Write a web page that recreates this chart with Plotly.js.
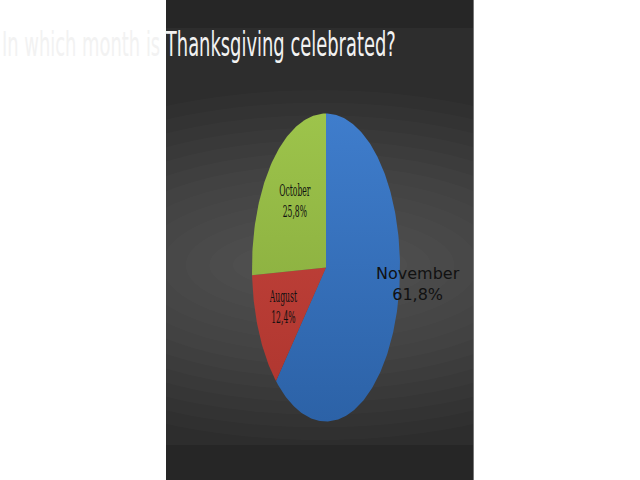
<!DOCTYPE html>
<html>
<head>
<meta charset="utf-8">
<script src="https://cdn.plot.ly/plotly-3.0.1.min.js"></script>
<style>body{margin:0;background:#fff}</style>
</head>
<body>
<div id="chart" style="width:640px;height:480px"></div>
<script>
var months = ['November', 'August', 'October'];
var shares = [61.8, 12.4, 25.8];
var topColors = ['#3f7dcc', '#c8463e', '#9dc44b'];
var bottomColors = ['#2c62a7', '#ad352e', '#82a43a'];
var chartTitle = 'In which month is Thanksgiving celebrated?';

// the slide was squeezed sideways, so the pie is an ellipse
var cx = 326, cy = 267.5, rx = 74, ry = 154;
function px(x) { return x / 640; }
function py(y) { return 1 - y / 480; }

var total = shares.reduce(function (a, b) { return a + b; }, 0);
var traces = [];
var acc = 0;
shares.forEach(function (v, i) {
	var a0 = acc / total * 2 * Math.PI;
	var a1 = (acc + v) / total * 2 * Math.PI;
	var n = Math.max(4, Math.ceil((a1 - a0) / (Math.PI / 180)));
	var xs = [0], ys = [0];
	for (var k = 0; k <= n; k++) {
		var a = a0 + (a1 - a0) * k / n;
		xs.push(Math.sin(a));
		ys.push(Math.cos(a));
	}
	xs.push(0); ys.push(0);
	traces.push({
		x: xs, y: ys, type: 'scatter', mode: 'lines', fill: 'toself',
		line: {width: 0, color: topColors[i]},
		fillgradient: {type: 'vertical', colorscale: [[0, bottomColors[i]], [1, topColors[i]]], start: -1, stop: 1},
		hoverinfo: 'skip', showlegend: false
	});
	acc += v;
});

function pct(v) { return v.toFixed(1).replace('.', ',') + '%'; }

var labelPos = [[1.24, -0.11], [-0.58, -0.255], [-0.42, 0.43]];
var annotations = months.map(function (m, i) {
	var big = i === 0;
	return {
		x: labelPos[i][0], y: labelPos[i][1], xref: 'x', yref: 'y',
		text: m + '<br>' + pct(shares[i]), showarrow: false,
		align: 'center', xanchor: 'center', yanchor: 'middle',
		font: big ? {family: 'DejaVu Sans', size: 16, color: '#111111'}
		          : {family: 'DejaVu Serif', size: 16, color: '#111111'}
	};
});

var shapes = [
	{type: 'rect', xref: 'paper', yref: 'paper', x0: px(166), x1: px(474), y0: 0, y1: 1,
	 fillcolor: '#262626', line: {width: 0}, layer: 'below'},
	{type: 'rect', xref: 'paper', yref: 'paper', x0: px(166), x1: px(474), y0: py(445), y1: py(28),
	 fillcolor: '#2d2d2d', line: {width: 0}, layer: 'below'}
];
// soft light band behind the pie, many faint layers so no steps show
for (var k = 0; k < 14; k++) {
	var f = 1 - k / 14;
	shapes.push({type: 'circle', xref: 'paper', yref: 'paper',
		x0: px(320 - 330 * f - 40), x1: px(320 + 330 * f + 40), y0: py(265 + 175 * f), y1: py(265 - 175 * f),
		fillcolor: 'rgba(255,255,255,0.016)', line: {width: 0}, layer: 'below'});
}
// blank out the overflow left and right of the panel
shapes.push({type: 'rect', xref: 'paper', yref: 'paper', x0: 0, x1: px(166), y0: 0, y1: 1, fillcolor: '#ffffff', line: {width: 0}, layer: 'below'});
shapes.push({type: 'rect', xref: 'paper', yref: 'paper', x0: px(474), x1: 1, y0: 0, y1: 1, fillcolor: '#ffffff', line: {width: 0}, layer: 'below'});
shapes.push({type: 'line', xref: 'paper', yref: 'paper', x0: px(473.5), x1: px(473.5), y0: 0, y1: 1, line: {width: 1, color: '#777777'}, layer: 'below'});

var layout = {
	width: 640, height: 480,
	margin: {l: 0, r: 0, t: 0, b: 0},
	paper_bgcolor: '#ffffff', plot_bgcolor: 'rgba(0,0,0,0)',
	showlegend: false,
	title: {
		text: chartTitle, x: px(2), xanchor: 'left', xref: 'paper',
		y: 1 - 44 / 480, yref: 'container', yanchor: 'middle',
		font: {family: 'DejaVu Sans', size: 34, color: '#f2f2f2'}
	},
	xaxis: {range: [-cx / rx, (640 - cx) / rx], visible: false, fixedrange: true},
	yaxis: {range: [-(480 - cy) / ry, cy / ry], visible: false, fixedrange: true},
	shapes: shapes,
	annotations: annotations
};

// squeeze a text element sideways, like the rest of the slide
function squash(el, s, anchor) {
	if (!el) return;
	var b = el.getBBox();
	var ax = anchor === 'left' ? b.x : b.x + b.width / 2;
	var old = el.getAttribute('transform') || '';
	el.setAttribute('transform', old + ' translate(' + ax + ',0) scale(' + s + ',1) translate(' + (-ax) + ',0)');
}

Plotly.newPlot('chart', traces, layout, {staticPlot: true}).then(function (gd) {
	var t = gd.querySelector('.gtitle');
	if (t) squash(t, 394 / t.getBBox().width, 'left');
	gd.querySelectorAll('g.annotation').forEach(function (g) {
		var idx = +g.getAttribute('data-index');
		if (idx > 0) squash(g.querySelector('.annotation-text'), 0.48, 'center');
	});
});
</script>
</body>
</html>
